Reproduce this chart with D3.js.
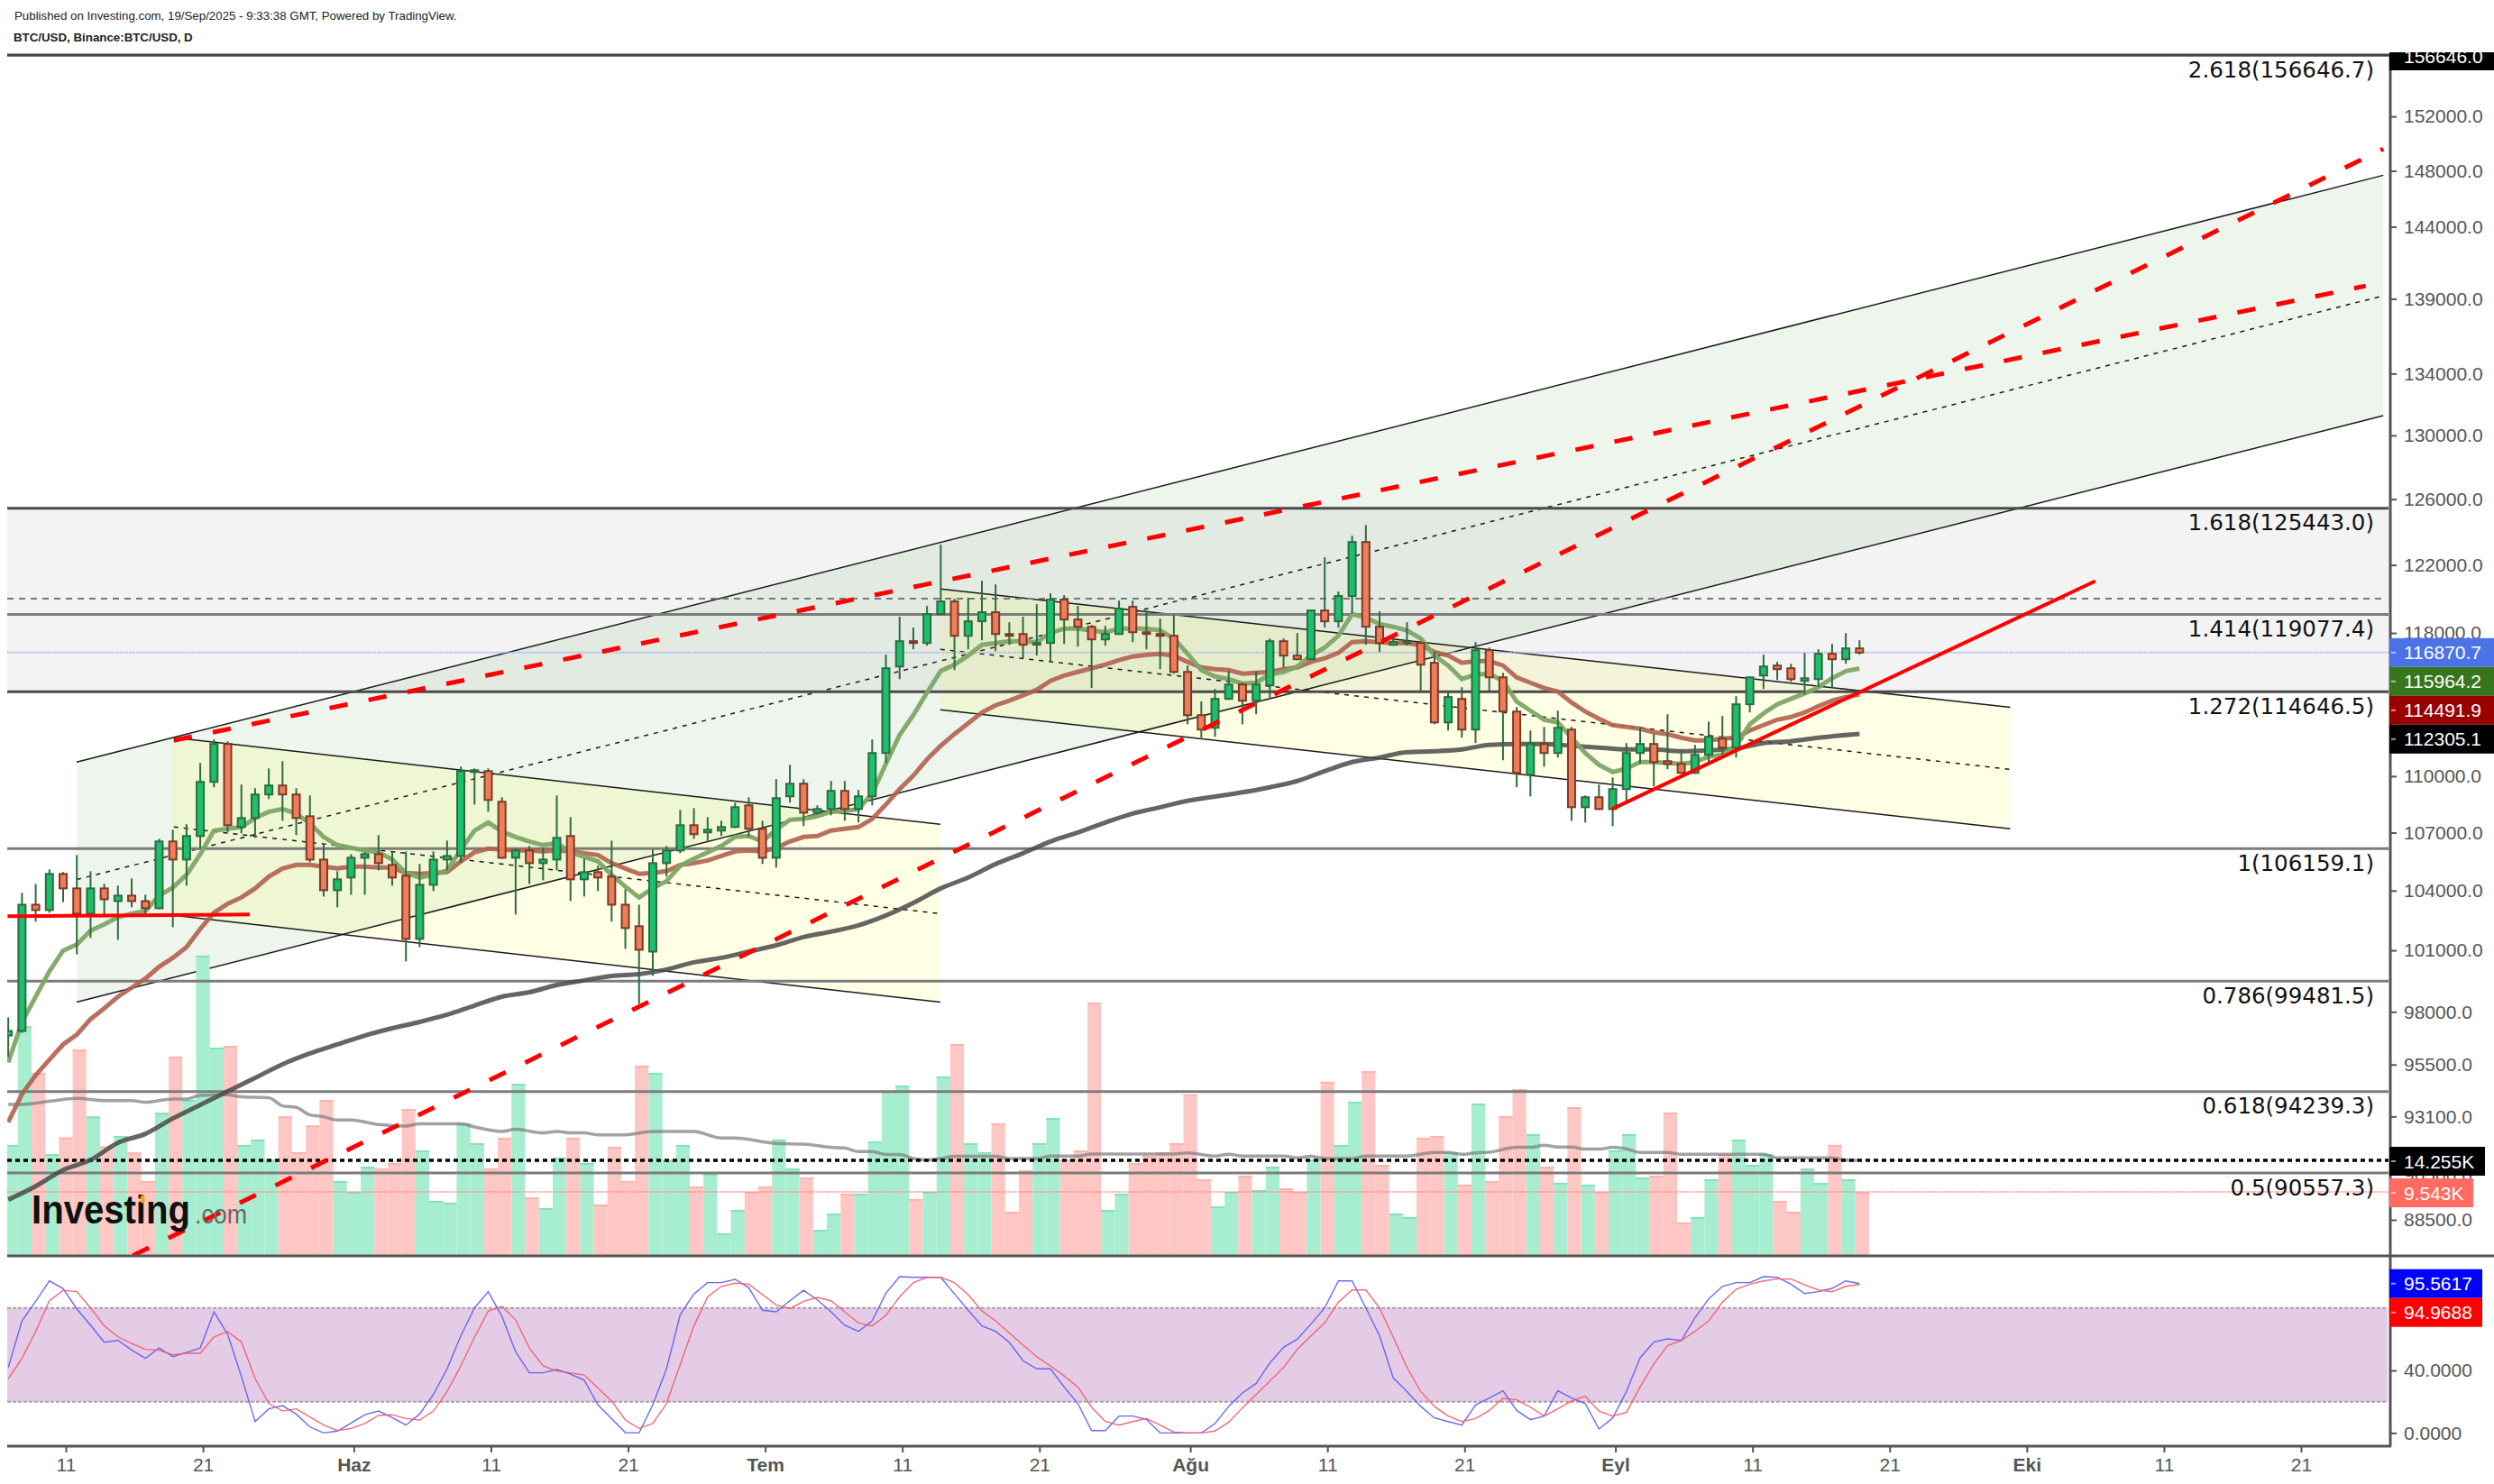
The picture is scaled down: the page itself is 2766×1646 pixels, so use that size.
<!DOCTYPE html>
<html>
<head>
<meta charset="utf-8">
<title>BTC/USD</title>
<script src="https://cdnjs.cloudflare.com/ajax/libs/d3/7.8.5/d3.min.js"></script>
<style>
    html, body { margin: 0; padding: 0; background: #fff; }
    svg { display: block; }
    text { font-family: "Liberation Sans", Arial, sans-serif; }
    .fibLabel { font-family: "DejaVu Sans", sans-serif; font-size: 24.5px; fill: #111; text-anchor: end; }
    .tickText { font-size: 21px; fill: #555; }
    .boxText { font-size: 21px; fill: #fff; }
</style>
</head>
<body>
<svg id="chart" width="2766" height="1646"></svg>
<script>
// daily candles, 7 May to 19 Sep 2025
var firstDay = '2025-05-07', lastDay = '2025-09-19';

var opens = [
    96868, 97084, 103284, 103013, 104853, 104112, 102832, 104112, 103466, 103744,
    103466, 103104, 106536, 105594, 106820, 109693, 111750, 107293, 107766, 109017,
    109500, 109017, 107860, 105594, 104020, 104668, 105687, 105875, 105316, 104761,
    101567, 104298, 105594, 105780, 110224, 110273, 108628, 105687, 106064, 105409,
    105594, 106820, 104575, 104946, 104715, 103284, 102200, 100937, 105409, 106064,
    107387, 107009, 107104, 107293, 108435, 107198, 105687, 108918, 109596, 108050,
    108242, 109210, 108242, 108918, 111256, 116078, 117525, 117422, 119098, 119837,
    117836, 118676, 119204, 117939, 117939, 117318, 117422, 119943, 118781, 118358,
    117629, 117939, 119521, 118042, 117939, 117836, 115768, 113339, 112639, 114249,
    115056, 114148, 115006, 117525, 116698, 116491, 119309, 118676, 120154, 123381,
    118358, 117318, 117422, 117422, 116284, 112936, 114249, 112540, 117008, 115460,
    113541, 110079, 111750, 111256, 112540, 108339, 108870, 108242, 109306, 111256,
    111750, 110811, 110663, 110176, 111157, 112046, 111552, 113945, 115563, 116129,
    115974, 115259, 115360, 116801, 116491, 117112
];
var highs = [
    97734, 103881, 104344, 105085, 104946, 105828, 104992, 104344, 104251, 104622,
    103790, 106678, 107151, 107435, 110712, 111997, 111898, 109548, 109355, 110417,
    110811, 109355, 108966, 106442, 104992, 105875, 105970, 106867, 106017, 106017,
    105363, 106017, 106583, 110514, 110417, 110417, 108870, 106158, 106300, 106205,
    108966, 107813, 105640, 105270, 106583, 104066, 103284, 106111, 106300, 108194,
    108290, 107813, 107624, 108580, 108870, 107624, 109838, 110613, 109838, 108435,
    109741, 109741, 109258, 111997, 116750, 118940, 118305, 119573, 123219, 119996,
    120049, 121059, 120843, 118623, 118940, 119679, 120313, 120207, 119573, 118464,
    118411, 119890, 119890, 119309, 118834, 119045, 116129, 114100, 114804, 115819,
    115157, 115819, 117680, 117680, 117991, 119362, 122463, 120418, 123759, 124407,
    119256, 117732, 118623, 117525, 116905, 114653, 114905, 117474, 117163, 115716,
    113793, 112491, 112689, 113591, 112689, 108966, 109548, 109934, 111799, 112689,
    112293, 113389, 111404, 111701, 112985, 113288, 114400, 115511, 116750, 116336,
    116233, 116853, 117060, 117370, 117991, 117577
];
var lows = [
    95852, 96997, 102426, 102878, 103420, 100804, 101612, 102742, 101522, 103149,
    102742, 103058, 102154, 104251, 106158, 109403, 107009, 106962, 106725, 108773,
    107624, 106867, 105455, 103698, 103149, 103790, 103790, 105038, 104251, 100451,
    101158, 103974, 105038, 105409, 108483, 108097, 105640, 102787, 104344, 104529,
    105038, 103466, 103698, 103974, 102426, 101070, 98383, 99742, 104715, 105922,
    106678, 106489, 106820, 107246, 106773, 105363, 105177, 108580, 107340, 107955,
    107908, 107624, 107530, 108435, 110712, 115360, 117060, 117267, 119045, 115871,
    117060, 117577, 116957, 117318, 116543, 116698, 116336, 117370, 117215, 114855,
    117267, 117887, 117474, 117060, 115923, 115666, 112837, 112096, 112145, 114198,
    112837, 113389, 114249, 116026, 116440, 116440, 118305, 118305, 119151, 117318,
    116905, 117267, 117267, 114653, 112837, 112491, 112096, 111799, 114703, 110861,
    109403, 108918, 110514, 111009, 107624, 107530, 108194, 107340, 108677, 110663,
    109451, 110369, 110128, 110128, 110762, 111157, 111009, 113490, 114804, 115309,
    115208, 114501, 114905, 114855, 116233, 116750
];
var closes = [
    97084, 103284, 103013, 104853, 104112, 102832, 104112, 103559, 103744, 103466,
    103104, 106536, 105594, 106820, 109693, 111750, 107387, 107766, 109017, 109500,
    109017, 107766, 105594, 104020, 104575, 105687, 105875, 105409, 104668, 101567,
    104298, 105594, 105780, 110273, 110321, 108725, 105687, 106064, 105409, 105594,
    106725, 104575, 104946, 104668, 103284, 102109, 101025, 105409, 106064, 107387,
    106915, 107151, 107293, 108339, 107198, 105687, 108822, 109596, 108050, 108242,
    109210, 108242, 108918, 111256, 115976, 117525, 117422, 119098, 119837, 117836,
    118676, 119204, 117939, 117836, 117318, 117422, 119943, 118781, 118358, 117629,
    117939, 119415, 118042, 117939, 117836, 115768, 113339, 112540, 114249, 115056,
    114148, 115056, 117525, 116698, 116491, 119309, 118676, 120154, 123381, 118358,
    117422, 117474, 117474, 116181, 112936, 114350, 112540, 117008, 115460, 113541,
    110176, 111750, 111256, 112639, 108339, 108870, 108242, 109306, 111256, 111750,
    110762, 110663, 110176, 111157, 112145, 111552, 113945, 115460, 116078, 115923,
    115360, 115410, 116801, 116491, 117112, 116870.7
];
var volumes = [
    16550, 34255, 27305, 15200, 17670, 30800, 20805, 16325, 17890, 15425,
    11170, 21345, 29730, 23270, 44790, 31070, 31340, 16550, 17355, 14305,
    20805, 15470, 19460, 23270, 11170, 9555, 13320, 13050, 13855, 21925,
    15740, 8210, 7940, 19775, 16815, 13050, 17625, 25690, 8745, 7135,
    14665, 17625, 13855, 7670, 16280, 11170, 28380, 27305, 14305, 16550,
    10360, 12245, 3365, 6865, 9555, 10360, 17355, 13050, 11705, 3905,
    6325, 9285, 9285, 17085, 24615, 25425, 8480, 9555, 26770, 31610,
    16815, 15470, 19775, 6595, 12780, 16815, 20580, 14395, 15740, 37795,
    6865, 9285, 13855, 14935, 15470, 16815, 24080, 11435, 7400, 9555,
    11975, 9825, 13320, 10090, 9555, 14395, 25960, 16550, 23005, 27575,
    13590, 6325, 5790, 17625, 17890, 15470, 10630, 22735, 11170, 20850,
    24885, 18160, 13320, 10900, 22195, 10630, 9555, 15740, 18160, 11705,
    11975, 21390, 4980, 5790, 11435, 15200, 17355, 13590, 15200, 8210,
    6595, 13050, 10900, 16550, 11435, 9543
];

// moving averages on the price pane
var emaFast = [
    95600, 97517, 98730, 99965, 100981, 101296, 101974, 102290, 102652, 102832,
    102968, 103744, 104159, 104807, 105875, 107104, 107198, 107293, 107766, 108097,
    108242, 108002, 107482, 106773, 106347, 106205, 106064, 105970, 105594, 104900,
    104668, 104807, 105038, 106111, 107104, 107530, 107057, 106773, 106536, 106347,
    106442, 105970, 105733, 105502, 104807, 104205, 103651, 104112, 104483, 105270,
    105640, 105970, 106300, 106773, 106820, 106536, 107151, 107671, 107719, 107860,
    108097, 108145, 108242, 109065, 110663, 112244, 113339, 114602, 115819, 116181,
    116698, 117318, 117422, 117525, 117525, 117474, 117991, 118252, 118252, 118147,
    118042, 118252, 118252, 118252, 118147, 117680, 116801, 115871, 115511, 115360,
    115107, 115157, 115614, 115768, 116078, 116698, 117163, 117836, 119098, 118887,
    118517, 118358, 118147, 117680, 116698, 116129, 115360, 115614, 115666, 115259,
    114100, 113591, 113086, 112936, 112096, 111256, 110613, 110224, 110417, 110762,
    110762, 110712, 110663, 110762, 111058, 111157, 111651, 112837, 113440, 113945,
    114249, 114552, 114905, 115410, 115819, 115964.2
];
var emaMid = [
    92844, 94128, 95006, 95725, 96445, 96913, 97647, 98167, 98730, 99167,
    99609, 100186, 100628, 101158, 102064, 102878, 103330, 103651, 104112, 104715,
    105131, 105316, 105316, 105224, 105131, 105224, 105224, 105177, 105177, 104900,
    104853, 104900, 104946, 105502, 105970, 106158, 106111, 106064, 106064, 106017,
    106064, 106017, 105922, 105828, 105409, 105131, 104853, 104900, 104992, 105316,
    105409, 105548, 105780, 106017, 106064, 106017, 106205, 106536, 106773, 106820,
    107104, 107198, 107293, 107719, 108483, 109306, 110031, 110910, 111651, 112293,
    112886, 113490, 113894, 114148, 114451, 114754, 115259, 115563, 115768, 115974,
    116181, 116440, 116646, 116750, 116801, 116698, 116336, 116026, 115923, 115871,
    115666, 115716, 115768, 115923, 116026, 116336, 116543, 116853, 117474, 117525,
    117474, 117422, 117422, 117318, 116905, 116698, 116284, 116388, 116388, 116129,
    115460, 115157, 114855, 114653, 114047, 113541, 113137, 112787, 112689, 112590,
    112392, 112293, 112096, 111948, 111948, 112046, 112096, 112491, 112787, 113086,
    113238, 113490, 113844, 114148, 114350, 114491.9
];
var emaSlowDays = [
    '05-07', '05-09', '05-11', '05-13', '05-15', '05-17', '05-19', '05-21', '05-23', '05-25',
    '05-27', '05-29', '05-31', '06-02', '06-04', '06-06', '06-08', '06-10', '06-12', '06-14',
    '06-16', '06-18', '06-20', '06-22', '06-24', '06-26', '06-28', '06-30', '07-02', '07-04',
    '07-06', '07-08', '07-10', '07-12', '07-14', '07-16', '07-18', '07-20', '07-22', '07-24',
    '07-26', '07-28', '07-30', '08-01', '08-04', '08-06', '08-07', '08-09', '08-11', '08-13',
    '08-15', '08-17', '08-19', '08-21', '08-23', '08-25', '08-27', '08-29', '08-31', '09-02',
    '09-04', '09-06', '09-08', '09-10', '09-12', '09-14', '09-16', '09-19'
];
var emaSlow = [
    89380, 89970, 90690, 91138, 91908, 92310, 93010, 93631, 94252, 94877,
    95514, 96022, 96445, 96868, 97214, 97517, 97864, 98297, 98730, 98946,
    99300, 99522, 99742, 99830, 100053, 100407, 100628, 100937, 101248, 101657,
    101928, 102245, 102742, 103375, 104112, 104668, 105363, 105922, 106536, 107009,
    107530, 108002, 108339, 108677, 109017, 109258, 109403, 109741, 110273, 110762,
    111009, 111305, 111354, 111453, 111701, 111750, 111750, 111651, 111552, 111453,
    111453, 111354, 111404, 111503, 111799, 111898, 112096, 112305.1
];

var volumeAvgDays = [
    '05-07', '05-08', '05-10', '05-12', '05-14', '05-16', '05-17', '05-19', '05-20', '05-21',
    '05-23', '05-24', '05-26', '05-27', '05-28', '05-29', '05-30', '05-31', '06-01', '06-03',
    '06-05', '06-06', '06-09', '06-10', '06-12', '06-13', '06-15', '06-16', '06-17', '06-18',
    '06-19', '06-21', '06-23', '06-26', '06-28', '06-29', '07-02', '07-04', '07-06', '07-07',
    '07-08', '07-09', '07-10', '07-11', '07-12', '07-13', '07-14', '07-15', '07-17', '07-18',
    '07-19', '07-21', '07-22', '07-24', '07-25', '07-31', '08-01', '08-03', '08-04', '08-05',
    '08-08', '08-09', '08-10', '08-11', '08-13', '08-14', '08-17', '08-19', '08-20', '08-21',
    '08-22', '08-23', '08-25', '08-26', '08-27', '08-28', '08-29', '08-30', '08-31', '09-01',
    '09-02', '09-03', '09-05', '09-06', '09-12', '09-13', '09-17', '09-18', '09-19'
];
var volumeAvg = [
    22600, 22600, 23050, 23495, 23180, 23180, 22915, 23405, 23405, 23945,
    24035, 23720, 23585, 22375, 22150, 21030, 20760, 20270, 20270, 19595,
    19370, 19685, 19685, 19240, 18565, 18880, 18340, 18565, 18340, 18340,
    18070, 18070, 18565, 18565, 17580, 17580, 16770, 16680, 16190, 16100,
    15560, 15560, 15115, 15115, 14530, 14305, 14530, 14845, 14845, 14845,
    14530, 14530, 14890, 14890, 15200, 15200, 15380, 14890, 15160, 14890,
    14890, 14620, 14845, 14530, 14530, 14890, 14890, 15425, 15425, 15160,
    15380, 15470, 16190, 16190, 16500, 16235, 16235, 15920, 15920, 16190,
    15965, 15425, 15425, 15160, 15160, 14620, 14620, 14305, 14255
];
var volumeAvgLast = 14255, volumeLast = 9543, priceLast = 116870.7;

// stochastic RSI, one value per candle
var stochK = [
    41.9, 71.7, 84.2, 97.3, 92.3, 79.4, 68.9, 58.1, 59.2, 53.1,
    47.7, 54.4, 48.8, 51.5, 54.4, 77.5, 63.1, 36.2, 7.3, 15.4,
    17.5, 12.1, 3.8, 0, 1.2, 6.3, 11.7, 14.0, 9.8, 5.0,
    12.1, 24.6, 41.0, 62.1, 80.0, 90.4, 74.6, 51.9, 38.5, 38.5,
    40.6, 37.7, 33.8, 17.9, 9.2, 0.2, 0, 17.9, 41.0, 75.6,
    89.0, 96.2, 96.2, 98.3, 92.9, 78.5, 77.5, 84.6, 91.3, 85.2,
    77.5, 68.9, 65.0, 71.7, 89.4, 100, 99.6, 99.6, 99.6, 89.0,
    78.5, 68.5, 65.0, 57.9, 46.2, 41.0, 41.0, 29.4, 18.8, 1.5,
    1.5, 10.8, 10.8, 8.7, 0, 0, 0, 0, 6.0, 17.0,
    25.6, 31.7, 44.8, 54.8, 60.0, 69.8, 80.0, 97.3, 97.3, 80.0,
    62.1, 35.2, 26.5, 17.0, 9.6, 7.3, 5.0, 17.9, 22.3, 27.0,
    14.4, 8.5, 10.8, 27.0, 22.3, 18.8, 2.5, 9.6, 26.5, 48.1,
    58.1, 60.2, 59.2, 73.7, 85.8, 93.8, 96.2, 96.2, 100, 99.6,
    95.2, 89.2, 90.4, 92.5, 97.3, 95.5617
];
var stochD = [
    34.6, 47.7, 65.0, 84.6, 91.3, 90.4, 80.0, 68.5, 61.5, 57.3,
    53.5, 52.9, 50.0, 51.0, 51.0, 61.5, 64.8, 58.3, 34.8, 18.8,
    14.0, 15.4, 10.2, 5.0, 1.5, 2.9, 6.0, 11.2, 11.7, 9.2,
    8.3, 14.0, 26.5, 42.9, 61.2, 77.9, 81.0, 72.3, 54.4, 42.9,
    39.6, 38.5, 37.1, 28.8, 20.4, 8.3, 2.9, 6.0, 18.8, 43.8,
    68.5, 87.1, 93.8, 95.8, 95.2, 88.5, 81.9, 79.6, 84.2, 86.7,
    84.6, 77.5, 70.4, 68.5, 75.2, 87.1, 96.2, 99.6, 99.6, 96.2,
    88.5, 78.1, 71.7, 64.0, 56.3, 48.7, 42.9, 36.5, 29.4, 16.5,
    7.3, 5.0, 7.3, 9.2, 5.0, 0.6, 0, 0, 1.2, 6.9,
    16.0, 24.6, 33.3, 41.9, 53.5, 62.1, 70.4, 83.8, 91.5, 91.5,
    80.0, 61.2, 41.9, 26.5, 17.0, 10.8, 7.3, 9.2, 14.4, 22.1,
    21.2, 16.5, 10.8, 15.4, 20.4, 23.5, 14.0, 10.8, 13.1, 29.4,
    44.2, 55.8, 59.2, 65.0, 71.7, 83.7, 91.9, 95.2, 97.3, 98.5,
    98.5, 94.8, 91.5, 90.4, 93.8, 94.9688
];
var stochBands = [80, 20];
var stochTicks = [40, 0];

// fibonacci levels
var fibRatios = ['2.618', '1.618', '1.414', '1.272', '1', '0.786', '0.618', '0.5'];
var fibPrices = [156646.7, 125443.0, 119077.4, 114646.5, 106159.1, 99481.5, 94239.3, 90557.3];
var fibStrong = ['2.618', '1.618', '1.272'];
var bandPrices = [125443.0, 114646.5];
var dashedLevel = 120000;

// drawn channels and trend lines: two anchor dates, prices at those dates
var upChannelDates = ['2025-05-11T19:00Z', '2025-10-27T00:00Z'];
var upChannelTop = [110761, 147680];
var upChannelMid = [104565, 139210];
var upChannelBottom = [98470, 131270];

var leftChannelDates = ['2025-05-18T21:00Z', '2025-07-13T18:30Z'];
var leftChannelTop = [112096, 107435];
var leftChannelMid = [107293, 102832];
var leftChannelBottom = [102742, 98470];

var rightChannelDates = ['2025-07-13T18:30Z', '2025-09-29T19:00Z'];
var rightChannelTop = [120576, 113775];
var rightChannelMid = [117060, 110369];
var rightChannelBottom = [113642, 107198];

var dashedTrendADates = ['2025-05-18T21:00Z', '2025-10-25T17:00Z'];
var dashedTrendA = [111948, 139880];
var dashedTrendBDates = ['2025-05-15T21:00Z', '2025-10-27T00:00Z'];
var dashedTrendB = [86960, 149600];
var flatTrendDates = ['2025-05-06T18:00Z', '2025-05-24T10:00Z'];
var flatTrend = [102700, 102787];
var supportTrendDates = ['2025-08-31T18:00Z', '2025-10-06T00:00Z'];
var supportTrend = [108242, 121040];

// axes
var priceTicks = [152000, 148000, 144000, 139000, 134000, 130000, 126000, 122000, 118000, 110000,
    107000, 104000, 101000, 98000, 95500, 93100, 90500, 88500];
var timeTickDates = ['2025-05-11', '2025-05-21', '2025-06-01', '2025-06-11', '2025-06-21', '2025-07-01',
    '2025-07-11', '2025-07-21', '2025-08-01', '2025-08-11', '2025-08-21', '2025-09-01', '2025-09-11',
    '2025-09-21', '2025-10-01', '2025-10-11', '2025-10-21'];
var timeTickLabels = ['11', '21', 'Haz', '11', '21', 'Tem', '11', '21', 'Ağu', '11', '21', 'Eyl', '11',
    '21', 'Eki', '11', '21'];

var priceBoxes = [
    { value: 116870.7, color: '#4c72e8' },
    { value: 115964.2, color: '#38761d' },
    { value: 114491.9, color: '#990000' },
    { value: 112305.1, color: '#000000' }
];

var layout = { left: 8, plotRight: 2649, axisX: 2651, top: 61, paneBottom: 1393, bottom: 1604, width: 2766 };

// candles and the lines drawn on them sit a little left of the time ticks and volume bars
var barShift = -3;
var boxHeight = 32;

var dom = {};
var scale = {};
var state = {};

function parseDate(s) { return new Date(s); }
function shortDay(s) { return new Date('2025-' + s + 'T00:00Z'); }

function initialize() {
    initDom();
    initScales();
    prepareData();

    drawFibBand();
    drawChannels();
    drawVolume();
    drawFibLines();
    drawMovingAverages();
    drawCandles();
    drawTrendLines();
    drawLogo();
    drawStochastic();
    drawAxes();
    drawBoxes();
    drawHeader();
}

function initDom() {
    dom.svg = d3.select('#chart');
    var defs = dom.svg.append('defs');
    defs.append('clipPath').attr('id', 'pricePane').append('rect')
        .attr('x', layout.left).attr('y', layout.top)
        .attr('width', layout.plotRight - layout.left).attr('height', layout.paneBottom - layout.top);
    dom.price = dom.svg.append('g').attr('clip-path', 'url(#pricePane)');
}

function initScales() {
    scale.x = d3.scaleUtc()
        .domain([new Date('2025-05-11T00:00Z'), new Date('2025-10-21T00:00Z')])
        .range([73, 2552]);
    scale.price = d3.scaleLog().domain([156646.7, 90557.3]).range([61, 1301]);
    scale.volume = d3.scaleLinear().domain([0, volumeAvgLast]).range([layout.paneBottom, 1287]);
    scale.stoch = d3.scaleLinear().domain([stochBands[1], stochBands[0]]).range([1554.7, 1450.7]);
}

function prepareData() {
    var start = new Date(firstDay + 'T00:00Z');
    var stop = d3.utcDay.offset(new Date(lastDay + 'T00:00Z'), 1);
    state.days = d3.utcDay.range(start, stop);
    state.candles = state.days.map(function(d, i) {
        return { date: d, open: opens[i], high: highs[i], low: lows[i], close: closes[i], volume: volumes[i] };
    });
}

function bx(d) { return scale.x(d) + barShift; }

//drawing
function drawFibBand() {
    dom.price.append('rect')
        .attr('x', layout.left)
        .attr('y', scale.price(bandPrices[0]))
        .attr('width', layout.plotRight - layout.left)
        .attr('height', scale.price(bandPrices[1]) - scale.price(bandPrices[0]))
        .attr('fill', '#f3f3f3');
}

function segment(dates, prices) {
    return d3.line()
        .x(function(d) { return scale.x(parseDate(d)); })
        .y(function(d, i) { return scale.price(prices[i]); })(dates);
}

function channel(dates, top, mid, bottom, fill) {
    var area = d3.area()
        .x(function(d) { return scale.x(parseDate(d)); })
        .y0(function(d, i) { return scale.price(bottom[i]); })
        .y1(function(d, i) { return scale.price(top[i]); });

    dom.price.append('path').attr('d', area(dates)).attr('fill', fill);
    state.channelLines.push({ dates: dates, prices: top, dash: null });
    state.channelLines.push({ dates: dates, prices: bottom, dash: null });
    state.channelLines.push({ dates: dates, prices: mid, dash: '5 6' });
}

function drawChannels() {
    state.channelLines = [];
    channel(upChannelDates, upChannelTop, upChannelMid, upChannelBottom, 'rgba(76,160,76,0.1)');
    channel(leftChannelDates, leftChannelTop, leftChannelMid, leftChannelBottom, 'rgba(255,255,0,0.1)');
    channel(rightChannelDates, rightChannelTop, rightChannelMid, rightChannelBottom, 'rgba(255,255,0,0.1)');

    dom.price.selectAll('.channelLine')
            .data(state.channelLines)
        .enter().append('path')
            .classed('channelLine', true)
            .attr('d', function(d) { return segment(d.dates, d.prices); })
            .attr('fill', 'none')
            .attr('stroke', '#1a1a1a')
            .attr('stroke-width', 1.5)
            .attr('stroke-dasharray', function(d) { return d.dash; });
}

function drawVolume() {
    var w = 15.2;
    dom.price.selectAll('.vol')
            .data(state.candles)
        .enter().append('rect')
            .classed('vol', true)
            .attr('x', function(d) { return scale.x(d.date) - w / 2; })
            .attr('y', function(d) { return scale.volume(d.volume); })
            .attr('width', w)
            .attr('height', function(d) { return layout.paneBottom - scale.volume(d.volume); })
            .attr('fill', function(d) { return d.close >= d.open ? '#a7edd0' : '#ffc7c3'; });

    dom.price.selectAll('.volTop')
            .data(state.candles)
        .enter().append('line')
            .classed('volTop', true)
            .attr('x1', function(d) { return scale.x(d.date) - w / 2; })
            .attr('x2', function(d) { return scale.x(d.date) + w / 2; })
            .attr('y1', function(d) { return scale.volume(d.volume) + 1; })
            .attr('y2', function(d) { return scale.volume(d.volume) + 1; })
            .attr('stroke', function(d) { return d.close >= d.open ? '#86e0ba' : '#ffb3ae'; })
            .attr('stroke-width', 2);

    var avgLine = d3.line()
        .x(function(d) { return bx(shortDay(d)); })
        .y(function(d, i) { return scale.volume(volumeAvg[i]); })
        .curve(d3.curveMonotoneX);
    dom.price.append('path')
        .attr('d', avgLine(volumeAvgDays))
        .attr('fill', 'none')
        .attr('stroke', '#7a7a7a')
        .attr('stroke-opacity', 0.7)
        .attr('stroke-width', 3.5);

    dom.price.append('line')
        .attr('x1', layout.left).attr('x2', layout.plotRight)
        .attr('y1', scale.volume(volumeAvgLast)).attr('y2', scale.volume(volumeAvgLast))
        .attr('stroke', '#000')
        .attr('stroke-width', 3.5)
        .attr('stroke-dasharray', '5 4');
    dom.price.append('line')
        .attr('x1', layout.left).attr('x2', layout.plotRight)
        .attr('y1', scale.volume(volumeLast)).attr('y2', scale.volume(volumeLast))
        .attr('stroke', '#ff8a84')
        .attr('stroke-width', 1.5)
        .attr('stroke-dasharray', '1.5 1');
}

function drawFibLines() {
    dom.price.selectAll('.fib')
            .data(fibPrices)
        .enter().append('line')
            .classed('fib', true)
            .attr('x1', layout.left).attr('x2', layout.plotRight)
            .attr('y1', function(d) { return scale.price(d); })
            .attr('y2', function(d) { return scale.price(d); })
            .attr('stroke', function(d, i) { return fibStrong.indexOf(fibRatios[i]) >= 0 ? '#4a4a4a' : '#7c7c7c'; })
            .attr('stroke-width', 3);

    dom.price.append('line')
        .attr('x1', layout.left).attr('x2', 2644)
        .attr('y1', scale.price(dashedLevel)).attr('y2', scale.price(dashedLevel))
        .attr('stroke', '#777')
        .attr('stroke-width', 2)
        .attr('stroke-dasharray', '7 6');

    dom.price.append('line')
        .attr('x1', layout.left).attr('x2', layout.plotRight)
        .attr('y1', scale.price(priceLast)).attr('y2', scale.price(priceLast))
        .attr('stroke', '#a9b9ee')
        .attr('stroke-width', 2)
        .attr('stroke-dasharray', '1.5 1');

    dom.svg.selectAll('.fibLabel')
            .data(fibPrices)
        .enter().append('text')
            .classed('fibLabel', true)
            .attr('x', 2633)
            .attr('y', function(d) { return scale.price(d) + 24.5; })
            .text(function(d, i) { return fibRatios[i] + '(' + d.toFixed(1) + ')'; });
}

function drawMovingAverages() {
    var daily = d3.line()
        .x(function(d, i) { return bx(state.days[i]); })
        .y(function(d) { return scale.price(d); });

    dom.price.append('path')
        .attr('d', d3.line()
            .x(function(d) { return bx(shortDay(d)); })
            .y(function(d, i) { return scale.price(emaSlow[i]); })
            .curve(d3.curveMonotoneX)(emaSlowDays))
        .attr('fill', 'none')
        .attr('stroke', '#4a4a4a')
        .attr('stroke-opacity', 0.85)
        .attr('stroke-width', 5);

    dom.price.append('path')
        .attr('d', daily(emaMid))
        .attr('fill', 'none')
        .attr('stroke', '#b1604e')
        .attr('stroke-opacity', 0.9)
        .attr('stroke-width', 5);

    dom.price.append('path')
        .attr('d', daily(emaFast))
        .attr('fill', 'none')
        .attr('stroke', '#7da765')
        .attr('stroke-opacity', 0.95)
        .attr('stroke-width', 5);
}

function drawCandles() {
    var w = 8;
    var g = dom.price.append('g');

    g.selectAll('.wick')
            .data(state.candles)
        .enter().append('line')
            .classed('wick', true)
            .attr('x1', function(d) { return bx(d.date); })
            .attr('x2', function(d) { return bx(d.date); })
            .attr('y1', function(d) { return scale.price(d.high); })
            .attr('y2', function(d) { return scale.price(d.low); })
            .attr('stroke', '#2f6b3e')
            .attr('stroke-width', 2);

    g.selectAll('.body')
            .data(state.candles)
        .enter().append('rect')
            .classed('body', true)
            .attr('x', function(d) { return bx(d.date) - w / 2; })
            .attr('y', function(d) { return scale.price(Math.max(d.open, d.close)); })
            .attr('width', w)
            .attr('height', function(d) {
                return Math.abs(scale.price(d.open) - scale.price(d.close));
            })
            .attr('fill', function(d) { return d.close >= d.open ? '#1bbf6d' : '#f07d59'; })
            .attr('stroke', function(d) { return d.close >= d.open ? '#2f6b3e' : '#7a3b27'; })
            .attr('stroke-width', 2);
}

function drawTrendLines() {
    var lines = [
        { dates: dashedTrendADates, prices: dashedTrendA, dash: '20.4 23.7', width: 5 },
        { dates: dashedTrendBDates, prices: dashedTrendB, dash: '20 24.1', width: 5 },
        { dates: flatTrendDates, prices: flatTrend, dash: null, width: 4 },
        { dates: supportTrendDates, prices: supportTrend, dash: null, width: 4 }
    ];
    dom.svg.selectAll('.trend')
            .data(lines)
        .enter().append('path')
            .classed('trend', true)
            .attr('d', function(d) { return segment(d.dates, d.prices); })
            .attr('clip-path', 'url(#pricePane)')
            .attr('fill', 'none')
            .attr('stroke', '#ff0000')
            .attr('stroke-width', function(d) { return d.width; })
            .attr('stroke-dasharray', function(d) { return d.dash; });
}

function drawLogo() {
    dom.svg.append('text')
        .attr('x', 35).attr('y', 1357)
        .attr('font-size', 44).attr('font-weight', 'bold').attr('fill', '#111')
        .attr('textLength', 176).attr('lengthAdjust', 'spacingAndGlyphs')
        .text('Investing');
    dom.svg.append('text')
        .attr('x', 216).attr('y', 1357)
        .attr('font-size', 30).attr('fill', '#666')
        .attr('textLength', 58).attr('lengthAdjust', 'spacingAndGlyphs')
        .text('.com');
    dom.svg.append('ellipse')
        .attr('cx', 158).attr('cy', 1330).attr('rx', 2.5).attr('ry', 4.5)
        .attr('fill', '#f4a21b');
}

function drawStochastic() {
    var y = scale.stoch;
    dom.svg.append('rect')
        .attr('x', layout.left).attr('width', 2648 - layout.left)
        .attr('y', y(stochBands[0])).attr('height', y(stochBands[1]) - y(stochBands[0]))
        .attr('fill', '#e5cce6');

    dom.svg.selectAll('.band')
            .data(stochBands)
        .enter().append('line')
            .classed('band', true)
            .attr('x1', layout.left).attr('x2', 2648)
            .attr('y1', function(d) { return y(d); })
            .attr('y2', function(d) { return y(d); })
            .attr('stroke', '#aaa0aa')
            .attr('stroke-width', 2)
            .attr('stroke-dasharray', '4 2');

    var line = d3.line()
        .x(function(d, i) { return bx(state.days[i]); })
        .y(function(d) { return y(d); });

    dom.svg.append('path').attr('d', line(stochK))
        .attr('fill', 'none').attr('stroke', '#5a5af0').attr('stroke-opacity', 0.9).attr('stroke-width', 1.4);
    dom.svg.append('path').attr('d', line(stochD))
        .attr('fill', 'none').attr('stroke', '#f05a66').attr('stroke-opacity', 0.9).attr('stroke-width', 1.4);
}

function styleAxis(g) {
    g.selectAll('.domain').remove();
    g.selectAll('line').attr('stroke', '#555').attr('stroke-width', 2);
    g.selectAll('text').attr('class', 'tickText').attr('font-family', null).attr('font-size', null);
}

function drawAxes() {
    var dark = '#555';

    // top rule, pane separator, bottom rule and the price axis line
    dom.svg.append('line')
        .attr('x1', layout.left).attr('x2', layout.plotRight + 3)
        .attr('y1', layout.top).attr('y2', layout.top)
        .attr('stroke', '#444').attr('stroke-width', 3);
    dom.svg.append('line')
        .attr('x1', layout.left).attr('x2', layout.width)
        .attr('y1', layout.paneBottom).attr('y2', layout.paneBottom)
        .attr('stroke', dark).attr('stroke-width', 3);
    dom.svg.append('line')
        .attr('x1', layout.left).attr('x2', layout.axisX + 1)
        .attr('y1', layout.bottom).attr('y2', layout.bottom)
        .attr('stroke', dark).attr('stroke-width', 3);
    dom.svg.append('line')
        .attr('x1', layout.axisX).attr('x2', layout.axisX)
        .attr('y1', layout.top).attr('y2', layout.bottom)
        .attr('stroke', dark).attr('stroke-width', 3);

    dom.svg.append('g')
        .attr('transform', 'translate(' + layout.axisX + ',0)')
        .call(d3.axisRight(scale.price).tickValues(priceTicks)
            .tickSize(7).tickPadding(8)
            .tickFormat(function(d) { return d.toFixed(1); }))
        .call(styleAxis);

    dom.svg.append('g')
        .attr('transform', 'translate(' + layout.axisX + ',0)')
        .call(d3.axisRight(scale.stoch).tickValues(stochTicks)
            .tickSize(7).tickPadding(8)
            .tickFormat(function(d) { return d.toFixed(4); }))
        .call(styleAxis);

    var timeTicks = timeTickDates.map(function(d) { return new Date(d + 'T00:00Z'); });
    var bottomAxis = dom.svg.append('g')
        .attr('transform', 'translate(0,' + layout.bottom + ')')
        .call(d3.axisBottom(scale.x).tickValues(timeTicks)
            .tickSize(7).tickPadding(6)
            .tickFormat(function(d, i) { return timeTickLabels[i]; }))
        .call(styleAxis);
    bottomAxis.selectAll('text')
        .attr('font-weight', function(d, i) { return isNaN(+timeTickLabels[i]) ? 'bold' : null; });
}

function box(y, right, color, label) {
    var g = dom.svg.append('g');
    g.append('rect')
        .attr('x', 2650).attr('y', y - boxHeight / 2)
        .attr('width', right - 2650).attr('height', boxHeight)
        .attr('fill', color);
    g.append('line')
        .attr('x1', 2652).attr('x2', 2657)
        .attr('y1', y).attr('y2', y)
        .attr('stroke', '#fff').attr('stroke-opacity', 0.6).attr('stroke-width', 2);
    g.append('text')
        .classed('boxText', true)
        .attr('x', 2666).attr('y', y)
        .attr('dy', '0.36em')
        .text(label);
}

function drawBoxes() {
    // the four price labels stack downward from the last price
    var y = scale.price(priceBoxes[0].value);
    priceBoxes.forEach(function(d, i) {
        box(y + i * boxHeight, layout.width, d.color, d.value.toFixed(1));
    });

    // the fib label at the very top is cut by the pane edge
    dom.svg.append('clipPath').attr('id', 'topBox').append('rect')
        .attr('x', 2650).attr('y', 58).attr('width', 116).attr('height', 20);
    var top = dom.svg.append('g').attr('clip-path', 'url(#topBox)');
    top.append('rect').attr('x', 2650).attr('y', 46).attr('width', 116).attr('height', boxHeight).attr('fill', '#000');
    top.append('text').classed('boxText', true)
        .attr('x', 2666).attr('y', 62).attr('dy', '0.36em').text('156646.0');

    box(scale.volume(volumeAvgLast) + 1, 2756, '#000000', (volumeAvgLast / 1000).toFixed(3) + 'K');
    box(scale.volume(volumeLast) + 1, 2743, '#ff6b60', (volumeLast / 1000).toFixed(3) + 'K');

    var k = scale.stoch(stochK[stochK.length - 1]);
    box(k, 2753, '#0000ff', stochK[stochK.length - 1].toFixed(4));
    box(k + boxHeight, 2753, '#ff0000', stochD[stochD.length - 1].toFixed(4));
}

function drawHeader() {
    dom.svg.append('text')
        .attr('x', 16).attr('y', 22)
        .attr('font-size', 13.3).attr('fill', '#222')
        .text('Published on Investing.com, 19/Sep/2025 - 9:33:38 GMT, Powered by TradingView.');
    dom.svg.append('text')
        .attr('x', 15).attr('y', 46)
        .attr('font-size', 13.3).attr('font-weight', 'bold').attr('fill', '#222')
        .text('BTC/USD, Binance:BTC/USD, D');
}

window.onload = initialize;
</script>
</body>
</html>
